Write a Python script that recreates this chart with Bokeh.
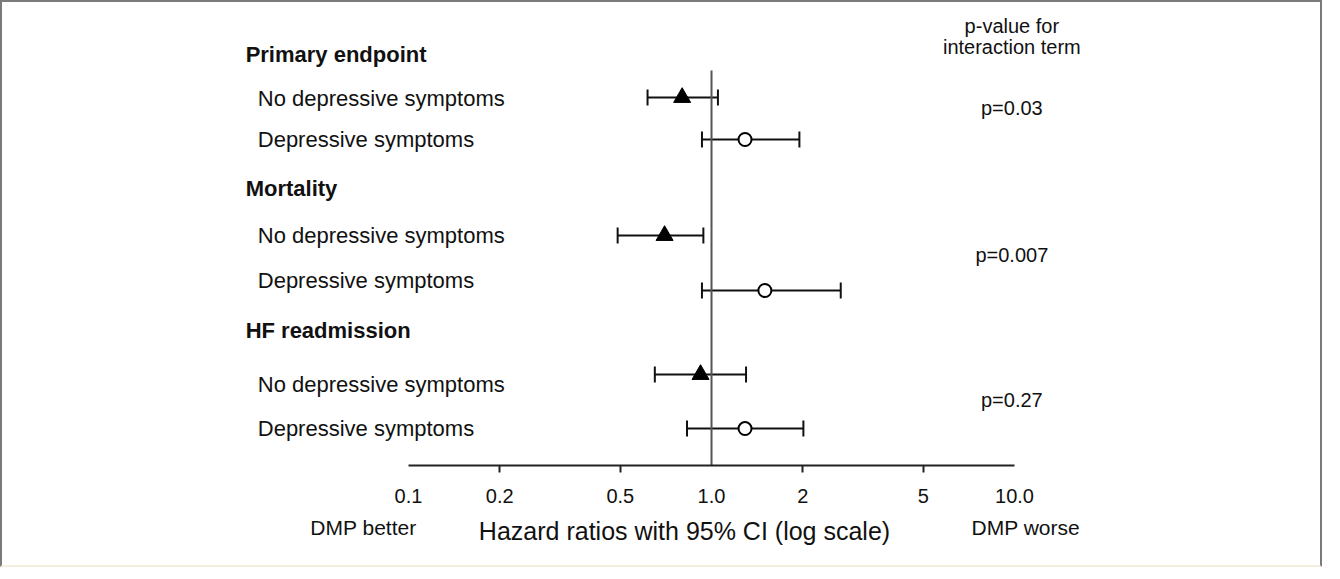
from bokeh.plotting import figure
from bokeh.models import Range1d, FixedTicker, LogAxis, Whisker, TeeHead, ColumnDataSource
from bokeh.core.properties import value
from bokeh.embed import file_html
from bokeh.resources import INLINE

# ---------------- data ----------------
outcomes = ["Primary endpoint", "Mortality", "HF readmission"]
sub_no = "No depressive symptoms"
sub_dep = "Depressive symptoms"
hr_no_dep = [0.80, 0.70, 0.92]
lo_no_dep = [0.615, 0.49, 0.65]
hi_no_dep = [1.05, 0.94, 1.30]
hr_dep = [1.29, 1.50, 1.29]
lo_dep = [0.93, 0.93, 0.83]
hi_dep = [1.95, 2.67, 2.01]
p_interaction = ["p=0.03", "p=0.007", "p=0.27"]
tick_values = [0.1, 0.2, 0.5, 1.0, 2, 5, 10.0]
tick_labels = ["0.1", "0.2", "0.5", "1.0", "2", "5", "10.0"]
side_labels = ["DMP better", "DMP worse"]
side_label_x = [0.071, 10.9]
x_title = "Hazard ratios with 95% CI (log scale)"

# ---------------- layout (row slots, top = 0) ----------------
header_slots = [0.0, 2.866, 5.904]
label_slots_no = [0.941, 3.872, 7.059]
label_slots_dep = [1.818, 4.834, 8.0]
marker_slots_no = [0.92, 3.872, 6.845]
marker_slots_dep = [1.818, 5.048, 8.0]
p_slots = [1.134, 4.278, 7.380]
ref_top = 0.342
y_top, y_bottom = -1.112, 8.791

FONT = "Liberation Sans"
INK = "#111111"

p = figure(width=1322, height=567, x_axis_type="log",
           x_range=Range1d(0.006289, 105.46), y_range=Range1d(y_bottom, y_top),
           output_backend="svg", toolbar_location=None, y_axis_location=None,
           min_border_left=42, min_border_right=0, min_border_top=0, min_border_bottom=104,
           background_fill_color="white", border_fill_color="white",
           outline_line_color=None,
           styles={"border-top": "2px solid #7b7b7b", "border-left": "2px solid #7b7b7b",
                   "border-right": "2px solid #7b7b7b", "border-bottom": "2px solid #f4eedc"})
p.grid.visible = False

ax = p.xaxis[0]
ax.ticker = FixedTicker(ticks=tick_values, minor_ticks=[0.2, 0.5, 2, 5])
ax.bounds = (0.1, 10)
ax.major_label_overrides = dict(zip(tick_values, tick_labels))
ax.axis_line_width = 2
ax.axis_line_color = "#222222"
ax.major_tick_out = 0
ax.major_tick_in = 0
ax.minor_tick_out = 7
ax.minor_tick_in = 0
ax.minor_tick_line_width = 2
ax.minor_tick_line_color = "#222222"
ax.major_label_text_font = FONT
ax.major_label_text_font_size = "20px"
ax.major_label_text_color = INK
ax.major_label_standoff = 16

# second (label-only) axis: "DMP better" / "DMP worse" and the axis title on the same line
ax2 = LogAxis(ticker=FixedTicker(ticks=side_label_x),
              major_label_overrides=dict(zip(side_label_x, side_labels)),
              axis_line_color=None, major_tick_line_color=None, minor_tick_line_color=None,
              major_tick_out=0, major_tick_in=0, minor_tick_out=0, minor_tick_in=0,
              major_label_standoff=10, major_label_text_font=FONT,
              major_label_text_font_size="21px", major_label_text_color=INK,
              axis_label=x_title, axis_label_text_font=FONT, axis_label_text_font_size="25px",
              axis_label_text_font_style="normal", axis_label_text_color=INK,
              axis_label_standoff=-25)
p.add_layout(ax2, "below")

# reference line at HR = 1
p.segment(x0=[1.0], y0=[ref_top], x1=[1.0], y1=[y_bottom], line_color="#555555", line_width=2)

# confidence intervals
src_no = ColumnDataSource(dict(y=marker_slots_no, lo=lo_no_dep, hi=hi_no_dep, hr=hr_no_dep))
src_dep = ColumnDataSource(dict(y=marker_slots_dep, lo=lo_dep, hi=hi_dep, hr=hr_dep))
for src in (src_no, src_dep):
    w = Whisker(source=src, base="y", lower="lo", upper="hi", dimension="width",
                line_width=2, line_color=INK,
                lower_head=TeeHead(size=16, line_width=2, line_color=INK),
                upper_head=TeeHead(size=16, line_width=2, line_color=INK))
    p.add_layout(w)

p.scatter(x="hr", y="y", source=src_no, marker="triangle", size=17,
          fill_color="black", line_color="black")
p.scatter(x="hr", y="y", source=src_dep, marker="circle", size=13,
          fill_color="white", line_color="black", line_width=2)

# row labels
header_x = 0.029
sub_x = 0.0318
p.text(x=[header_x] * 3, y=header_slots, text=outcomes, text_font=value(FONT),
       text_font_style="bold", text_font_size="22px", text_baseline="middle",
       text_align="left", text_color=INK)
p.text(x=[sub_x] * 3, y=label_slots_no, text=[sub_no] * 3, text_font=value(FONT),
       text_font_size="22px", text_baseline="middle", text_align="left", text_color=INK)
p.text(x=[sub_x] * 3, y=label_slots_dep, text=[sub_dep] * 3, text_font=value(FONT),
       text_font_size="22px", text_baseline="middle", text_align="left", text_color=INK)

# p-values
p_x = 9.8
p.text(x=[p_x] * 2, y=[-0.62, -0.15], text=["p-value for", "interaction term"],
       text_font=value(FONT), text_font_size="20px", text_baseline="middle",
       text_align="center", text_color=INK)
p.text(x=[p_x] * 3, y=p_slots, text=p_interaction, text_font=value(FONT),
       text_font_size="20px", text_baseline="middle", text_align="center", text_color=INK)

open("out.html", "w").write(file_html(p, INLINE))
